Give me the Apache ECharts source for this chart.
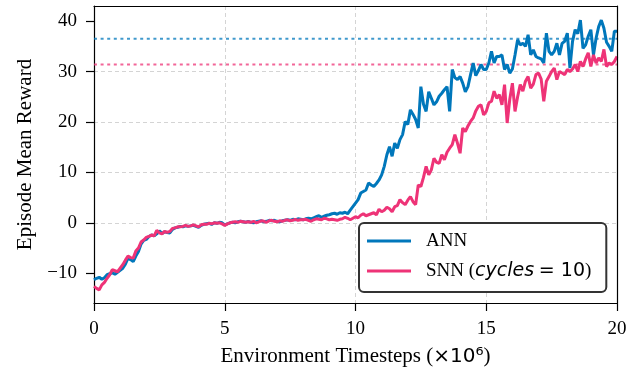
<!DOCTYPE html>
<html>
<head>
<meta charset="utf-8">
<script src="https://cdn.jsdelivr.net/npm/echarts@6/dist/echarts.min.js"></script>
<style>
  html, body { margin: 0; padding: 0; background: #fff; }
  #chart { width: 640px; height: 378px; }
</style>
</head>
<body>
<div id="chart"></div>
<script>
// timesteps in millions, one point every 0.1M
const steps = Array.from({ length: 201 }, (_, i) => +(i / 10).toFixed(1));

const annReward = [
  -11.3, -11.0, -10.8, -11.2, -10.9, -10.3, -10.1, -9.9, -10.2, -9.8,
  -9.4, -9.0, -8.2, -7.0, -7.3, -7.7, -6.6, -5.7, -4.2, -3.5,
  -3.3, -2.7, -2.4, -2.6, -2.2, -1.6, -2.1, -1.8, -1.9, -2.0,
  -1.3, -1.0, -0.9, -0.7, -0.8, -0.6, -0.7, -0.6, -0.5, -0.7,
  -0.9, -0.5, -0.3, -0.2, -0.1, -0.3, 0.0, -0.1, 0.1, 0.0,
  -0.4, -0.2, 0.0, 0.1, 0.0, 0.2, 0.3, 0.2, 0.1, 0.3,
  0.1, 0.0, 0.2, 0.3, 0.4, 0.2, 0.3, 0.5, 0.4, 0.5,
  0.3, 0.2, 0.4, 0.5, 0.6, 0.5, 0.7, 0.6, 0.8, 0.7,
  0.6, 0.8, 0.9, 0.8, 1.0, 1.2, 1.4, 1.1, 1.3, 1.5,
  1.6, 1.8, 1.9, 1.7, 2.0, 1.9, 2.1, 1.8, 2.5, 3.2,
  3.9, 4.6, 5.9, 6.2, 6.5, 7.9, 7.5, 7.2, 7.8, 8.5,
  9.5, 11.2, 13.5, 15.1, 13.2, 15.8, 14.8, 16.5, 17.5, 20.1,
  19.5, 22.4, 21.5, 20.5, 18.8, 27.0, 23.5, 22.1, 26.0, 24.7,
  23.4, 24.0, 25.1, 25.7, 26.4, 27.0, 22.1, 30.4, 28.8, 28.4,
  29.0, 27.7, 26.0, 27.0, 29.4, 31.7, 29.2, 30.2, 31.4, 30.4,
  30.4, 31.7, 34.0, 31.7, 33.0, 33.0, 33.3, 30.4, 31.4, 29.7,
  30.5, 33.3, 36.3, 35.3, 35.6, 35.0, 37.3, 33.3, 34.3, 33.0,
  32.7, 32.5, 31.7, 37.6, 34.0, 33.3, 34.0, 35.6, 33.3, 35.6,
  36.0, 37.6, 30.7, 36.0, 38.3, 37.5, 40.2, 34.6, 35.3, 37.0,
  38.3, 33.3, 36.6, 38.9, 40.2, 38.6, 35.8, 35.0, 34.0, 38.0,
  38.0
];

const snnReward = [
  -12.6, -13.0, -13.3, -12.3, -11.8, -11.0, -10.3, -9.3, -9.5, -9.7,
  -9.0, -8.3, -7.4, -6.6, -6.9, -7.0, -5.6, -5.0, -3.8, -3.4,
  -2.9, -2.7, -2.4, -2.6, -1.5, -2.0, -2.2, -1.7, -1.9, -1.7,
  -1.1, -1.0, -0.8, -0.8, -0.7, -0.5, -0.7, -0.6, -0.4, -0.6,
  -0.8, -0.4, -0.3, -0.3, -0.1, -0.2, 0.0, -0.1, 0.0, -0.2,
  -0.5, -0.2, 0.0, 0.1, 0.2, 0.1, 0.3, 0.2, 0.1, 0.2,
  0.1, 0.3, 0.0, 0.2, 0.4, 0.3, 0.1, 0.4, 0.5, 0.3,
  0.2, 0.4, 0.3, 0.5, 0.6, 0.4, 0.5, 0.7, 0.5, 0.6,
  0.6, 0.7, 0.5, 0.3, 0.6, 0.8, 0.7, 0.6, 0.9, 0.8,
  0.6, 0.7, 0.6, 0.5, 0.7, 0.8, 1.1, 0.9, 0.6, 0.9,
  1.2, 1.0, 1.5, 1.8, 1.4, 1.6, 1.8, 2.0, 1.6, 2.7,
  2.2, 2.5, 3.1, 2.8, 2.2, 3.2, 3.4, 4.6, 4.0, 3.6,
  4.5, 5.2, 4.2, 3.6, 7.5, 7.2, 9.0, 11.2, 9.5, 10.5,
  12.8, 12.0, 11.8, 13.5, 12.5, 14.0, 14.8, 15.5, 17.5, 15.8,
  13.8, 18.8, 18.1, 19.2, 20.1, 20.8, 22.2, 23.1, 23.4, 21.4,
  22.1, 23.8, 24.1, 26.1, 24.7, 25.4, 23.4, 27.4, 19.8, 24.5,
  27.7, 22.1, 25.0, 27.4, 26.1, 28.1, 29.0, 26.7, 27.5, 29.4,
  29.7, 28.5, 24.1, 28.1, 29.0, 30.0, 30.7, 28.4, 30.0, 29.7,
  29.4, 30.4, 30.0, 30.5, 31.4, 30.0, 32.0, 31.0, 32.5, 33.7,
  31.0, 33.3, 31.7, 32.7, 32.0, 34.4, 31.0, 31.7, 31.4, 32.0,
  33.0
];

// dotted reference levels
const annLevel = 36.5;
const snnLevel = 31.4;

const xTicks = [0, 5, 10, 15, 20];
const yTicks = [-10, 0, 10, 20, 30, 40];
const yMin = -15.9;
const yMax = 43;

const blue = "#0077bb";
const pink = "#ee3377";
const serif = "'Liberation Serif', 'Times New Roman', serif";
const sans = "'DejaVu Sans', sans-serif";

const pairs = (ys) => steps.map((x, i) => [x, ys[i]]);
const level = (y) => [[xTicks[0], y], [xTicks[xTicks.length - 1], y]];

const chart = echarts.init(document.getElementById("chart"), null, {
  width: 640,
  height: 378,
});

const axisCommon = {
  axisLine: { show: true, onZero: false, lineStyle: { color: "#000", width: 1.2 } },
  axisTick: { show: true, inside: false, length: 8, lineStyle: { color: "#000", width: 1.2 } },
  splitLine: {
    show: true,
    showMinLine: false,
    showMaxLine: false,
    lineStyle: { color: "#d4d4d4", width: 1, type: [4, 3] },
  },
};

// plain frame lines for the top and right side of the box
const frame = {
  axisLine: { show: true, onZero: false, lineStyle: { color: "#000", width: 1.2 } },
  axisTick: { show: false },
  axisLabel: { show: false },
  splitLine: { show: false },
  z: 10,
};

const option = {
  animation: false,
  grid: { left: 94, right: 23, top: 6, bottom: 75 },
  xAxis: [
    {
      type: "value",
      min: xTicks[0],
      max: xTicks[xTicks.length - 1],
      interval: 5,
      ...axisCommon,
      axisLabel: { color: "#000", fontFamily: serif, fontSize: 19, margin: 17 },
      name: "Environment Timesteps ({m|×10⁶})",
      nameLocation: "middle",
      nameGap: 43,
      nameTextStyle: {
        color: "#000",
        fontFamily: serif,
        fontSize: 21,
        rich: { m: { fontFamily: sans, fontSize: 20, color: "#000" } },
      },
    },
    {
      type: "value",
      position: "top",
      min: xTicks[0],
      max: xTicks[xTicks.length - 1],
      ...frame,
    },
  ],
  yAxis: [
    {
      type: "value",
      min: yMin,
      max: yMax,
      ...axisCommon,
      axisTick: { ...axisCommon.axisTick, customValues: yTicks },
      axisLabel: {
        color: "#000",
        fontFamily: serif,
        fontSize: 19,
        margin: 17,
        customValues: yTicks,
        formatter: (v) => (v < 0 ? "\u2212" + Math.abs(v) : String(v)),
      },
      name: "Episode Mean Reward",
      nameLocation: "middle",
      nameRotate: 90,
      nameGap: 58,
      nameTextStyle: { color: "#000", fontFamily: serif, fontSize: 21 },
    },
    {
      type: "value",
      position: "right",
      min: yMin,
      max: yMax,
      ...frame,
    },
  ],
  legend: {
    data: ["ANN", "SNN"],
    orient: "vertical",
    left: 359,
    top: 223,
    padding: [8, 15, 11, 8],
    itemWidth: 44,
    itemHeight: 3,
    itemGap: 10,
    icon: "rect",
    backgroundColor: "#fff",
    borderColor: "#333",
    borderWidth: 2,
    borderRadius: 5,
    formatter: (name) => (name === "ANN" ? "{g|}ANN" : "{g|}SNN ({it|cycles} {m|= 10})"),
    textStyle: {
      color: "#000",
      fontFamily: serif,
      fontSize: 19,
      lineHeight: 20,
      rich: {
        g: { width: 10 },
        it: { fontFamily: sans, fontStyle: "italic", fontSize: 19, color: "#000" },
        m: { fontFamily: sans, fontSize: 19, color: "#000" },
      },
    },
  },
  series: [
    {
      name: "ANN level",
      type: "line",
      data: level(annLevel),
      symbol: "none",
      silent: true,
      z: 1,
      lineStyle: { color: blue, width: 2, type: [3, 3.6], opacity: 0.75 },
    },
    {
      name: "SNN level",
      type: "line",
      data: level(snnLevel),
      symbol: "none",
      silent: true,
      z: 1,
      lineStyle: { color: pink, width: 2, type: [3, 3.6], opacity: 0.75 },
    },
    {
      name: "ANN",
      type: "line",
      data: pairs(annReward),
      symbol: "none",
      z: 2,
      lineStyle: { color: blue, width: 3 },
      itemStyle: { color: blue },
    },
    {
      name: "SNN",
      type: "line",
      data: pairs(snnReward),
      symbol: "none",
      z: 3,
      lineStyle: { color: pink, width: 3 },
      itemStyle: { color: pink },
    },
  ],
};

chart.setOption(option);
</script>
</body>
</html>
